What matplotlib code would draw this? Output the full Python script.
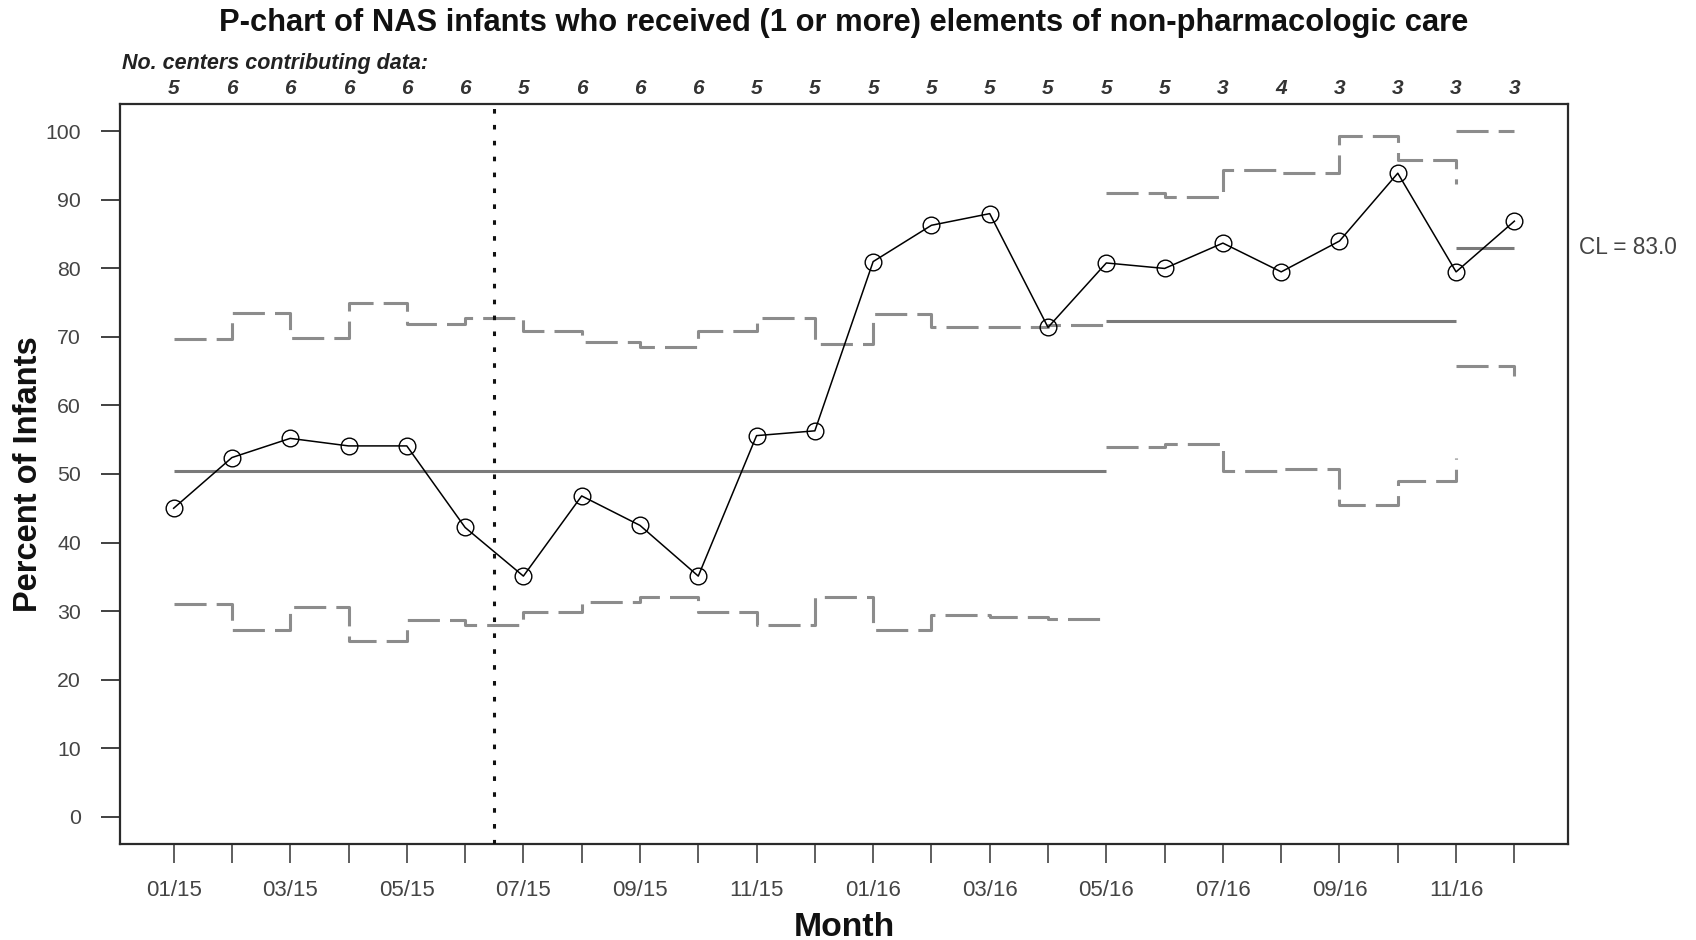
import matplotlib
matplotlib.use("Agg")
import matplotlib.pyplot as plt
from matplotlib.transforms import blended_transform_factory

plt.rcParams['font.family'] = ['Liberation Sans', 'DejaVu Sans']

# ---------------- data ----------------
month_labels = ["01/15", "", "03/15", "", "05/15", "", "07/15", "", "09/15", "", "11/15", "",
                "01/16", "", "03/16", "", "05/16", "", "07/16", "", "09/16", "", "11/16", ""]
centers = [5, 6, 6, 6, 6, 6, 5, 6, 6, 6, 5, 5, 5, 5, 5, 5, 5, 5, 3, 4, 3, 3, 3, 3]
percent = [45.0, 52.4, 55.2, 54.1, 54.1, 42.2, 35.1, 46.8, 42.5, 35.1, 55.6, 56.3,
           81.0, 86.3, 88.0, 71.4, 80.8, 80.0, 83.7, 79.5, 84.0, 93.9, 79.5, 86.9]

# phase 1: months 1..17
p1_idx = list(range(1, 18))
p1_cl = 50.4
p1_ucl = [69.7, 73.5, 69.9, 75.0, 71.9, 72.8, 70.8, 69.3, 68.6, 70.8, 72.7, 68.9,
          73.4, 71.4, 71.5, 71.8, 71.8]
p1_lcl = [31.0, 27.2, 30.6, 25.7, 28.7, 28.0, 29.9, 31.3, 32.0, 29.9, 28.0, 32.1,
          27.2, 29.4, 29.1, 28.8, 28.8]
# phase 2: months 17..23
p2_idx = list(range(17, 24))
p2_cl = 72.4
p2_ucl = [91.0, 90.5, 94.4, 94.0, 99.3, 95.8, 92.3]
p2_lcl = [54.0, 54.4, 50.4, 50.8, 45.5, 49.0, 52.4]
# phase 3: months 23..24
p3_idx = [23, 24]
p3_cl = 83.0
p3_ucl = [100.0, 100.0]
p3_lcl = [65.8, 64.3]

intervention = 6.5
y_ticks = [0, 10, 20, 30, 40, 50, 60, 70, 80, 90, 100]

# ---------------- figure ----------------
W, H = 1696, 940
fig = plt.figure(figsize=(W / 100, H / 100), dpi=100)
ax = fig.add_axes([120 / W, 1 - 844 / H, (1568 - 120) / W, (844 - 104) / H])

months = list(range(1, len(percent) + 1))
lim_color = "#8c8c8c"
cl_color = "#7a7a7a"
lim_kw = dict(color=lim_color, lw=2.2, dashes=(10.5, 3.3), drawstyle="steps-post", zorder=2)

for idx, cl, ucl, lcl in [(p1_idx, p1_cl, p1_ucl, p1_lcl),
                          (p2_idx, p2_cl, p2_ucl, p2_lcl),
                          (p3_idx, p3_cl, p3_ucl, p3_lcl)]:
    ax.plot(idx, ucl, **lim_kw)
    ax.plot(idx, lcl, **lim_kw)
    ax.plot([idx[0], idx[-1]], [cl, cl], color=cl_color, lw=2.2, zorder=2,
            solid_capstyle="butt")

ax.axvline(intervention, color="#111111", lw=2.2, dashes=(1.5, 3.7), zorder=3)

ax.plot(months, percent, color="black", lw=1.1, marker="o", ms=12,
        mfc="none", mec="black", mew=1.0, zorder=4)

ax.set_xlim(0.08, 24.92)
ax.set_ylim(-4, 104)

ax.set_xticks(months)
ax.set_xticklabels(month_labels)
ax.set_yticks(y_ticks)
ax.set_yticklabels([str(v) for v in y_ticks])

for s in ax.spines.values():
    s.set_color("#2a2a2a")
    s.set_linewidth(1.6)

ax.tick_params(axis="y", length=14, width=1.3, color="#333333", pad=14,
               labelsize=15.3, labelcolor="#444444")
ax.tick_params(axis="x", length=14, width=1.1, color="#333333", pad=12,
               labelsize=16, labelcolor="#444444")

# centers contributing data
tr_x = ax.get_xaxis_transform()
for m, c in zip(months, centers):
    ax.text(m, 1 + (104 - 89) / 740, str(c), transform=tr_x, ha="center", va="center",
            fontsize=15, fontweight="bold", fontstyle="italic", color="#333333")
fig.text(122 / W, 1 - 64 / H, "No. centers contributing data:", ha="left", va="center",
         fontsize=15.5, fontweight="bold", fontstyle="italic", color="#222222")

# CL label
tr_cl = blended_transform_factory(ax.transAxes, ax.transData)
ax.text((1579 - 120) / 1448, p3_cl, "CL = %.1f" % p3_cl, transform=tr_cl, ha="left",
        va="center", fontsize=16.3, color="#444444", clip_on=False)

# titles and labels
fig.text(844 / W, 1 - 23 / H,
         "P-chart of NAS infants who received (1 or more) elements of non-pharmacologic care",
         ha="center", va="center", fontsize=22.2, fontweight="bold", color="#111111")
fig.text(844 / W, 1 - 927 / H, "Month", ha="center", va="center", fontsize=24.3,
         fontweight="bold", color="#111111")
fig.text(29 / W, 1 - 474 / H, "Percent of Infants", ha="center", va="center",
         rotation=90, fontsize=23.5, fontweight="bold", color="#111111")

fig.savefig("out.png", dpi=100)
